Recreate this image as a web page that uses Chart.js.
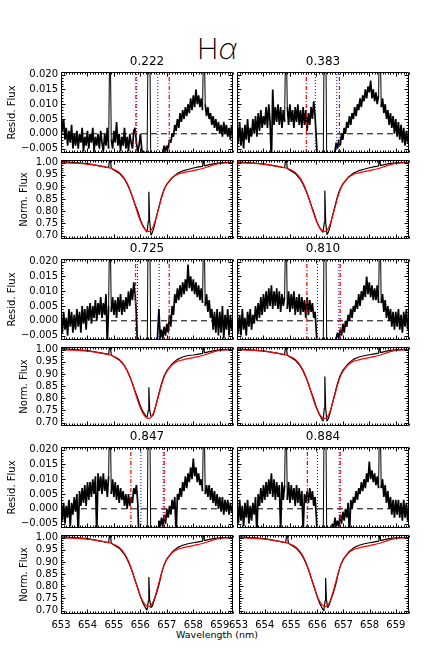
<!DOCTYPE html>
<html>
<head>
<meta charset="utf-8">
<title>H-alpha residual and normalised flux</title>
<script src="https://cdn.jsdelivr.net/npm/chart.js@4.4.1/dist/chart.umd.min.js"></script>
<style>
html,body{margin:0;padding:0;background:#fff;}
#wrap{position:relative;width:436px;height:654px;overflow:hidden;background:#fff;}
#wrap canvas{position:absolute;}
#mainTitle{position:absolute;left:117px;width:200px;top:32px;text-align:center;font-family:"Inter","DejaVu Sans",sans-serif;font-weight:200;font-size:29px;line-height:34px;color:#000;}
#xTitle{position:absolute;left:117px;width:200px;top:628px;text-align:center;font-family:"DejaVu Sans",sans-serif;font-size:9.5px;line-height:13px;color:#000;}
</style>
</head>
<body>
<div id="wrap">
<div id="mainTitle">H<span style="font-style:italic">α</span></div>
<div id="xTitle">Wavelength (nm)</div>
</div>
<script>
// ---------------- DATA ----------------
const phases = ['0.222', '0.383', '0.725', '0.810', '0.847', '0.884'];

const wave = [653.00,653.05,653.10,653.15,653.20,653.25,653.30,653.35,653.40,653.45,
653.50,653.55,653.60,653.65,653.70,653.75,653.80,653.85,653.90,653.95,
654.00,654.05,654.10,654.15,654.20,654.25,654.30,654.35,654.40,654.45,
654.50,654.55,654.60,654.65,654.70,654.75,654.80,654.85,654.90,654.95,
655.00,655.05,655.10,655.15,655.20,655.25,655.30,655.35,655.40,655.45,
655.50,655.55,655.60,655.65,655.70,655.75,655.80,655.85,655.90,655.95,
656.00,656.05,656.10,656.15,656.20,656.25,656.30,656.35,656.40,656.45,
656.50,656.55,656.60,656.65,656.70,656.75,656.80,656.85,656.90,656.95,
657.00,657.05,657.10,657.15,657.20,657.25,657.30,657.35,657.40,657.45,
657.50,657.55,657.60,657.65,657.70,657.75,657.80,657.85,657.90,657.95,
658.00,658.05,658.10,658.15,658.20,658.25,658.30,658.35,658.40,658.45,
658.50,658.55,658.60,658.65,658.70,658.75,658.80,658.85,658.90,658.95,
659.00,659.05,659.10,659.15,659.20,659.25,659.30,659.35,659.40,659.45,
659.50];

const residA = [0.007,0.001,0.005,-0.002,0.002,-0.004,0.001,-0.003,0.003,-0.005,0,
-0.004,0.001,-0.005,0,-0.003,0.002,-0.006,-0.001,-0.004,0.001,
-0.005,0,-0.003,0.002,-0.006,-0.001,-0.004,0,-0.005,0.001,
-0.003,-0.006,0,-0.004,0.002,-0.005,
0.04,
-0.002,-0.005,0.001,-0.003,0.004,-0.004,0,-0.006,-0.001,
-0.004,0.002,-0.005,-0.001,-0.006,0,-0.003,-0.005,0.001,
0.002,-0.003,-0.006,-0.004,0,-0.005,-0.008,-0.006,-0.009,-0.01,
0.04,0.04,
-0.02,-0.02,-0.02,-0.02,-0.02,-0.02,-0.02,-0.02,-0.02,
-0.006,-0.004,-0.006,-0.004,-0.005,-0.002,-0.003,0,-0.001,0.003,
0.001,0.005,0.002,0.007,0.004,0.008,0.005,0.009,0.006,0.01,
0.007,0.012,0.008,0.013,0.009,0.015,0.01,0.013,0.009,0.012,
0.008,
0.04,
0.01,0.006,0.009,0.005,0.007,0.003,0.006,0.002,0.005,0.001,
0.004,0,0.003,-0.001,0.004,0,0.003,-0.001,0.002,-0.002,
0.003,0];

const residB = [0.003,-0.003,0.004,-0.004,0.002,-0.005,0.003,-0.002,0.005,-0.003,0.002,
-0.001,0.005,0,0.006,-0.001,0.007,0.001,0.008,0.002,0.006,
0.003,0.009,0.002,0.01,0.004,-0.01,0.015,0.003,0.009,0.004,
0.01,0.003,0.009,0.002,0.008,0.004,
0.04,
0.009,0.003,0.01,0.004,0.008,0.002,0.009,0.004,0.01,
0.003,0.008,0.002,0.009,0.003,0.008,0.001,0.007,0.003,
0.009,0.005,0.011,0.006,
-0.002,-0.012,-0.02,-0.02,-0.02,-0.02,
0.04,0.04,
-0.02,-0.02,-0.02,-0.02,-0.02,-0.02,
-0.006,-0.003,-0.005,-0.002,-0.004,0,-0.002,0.002,0,0.004,
0.002,0.006,0.003,0.007,0.005,0.009,0.006,0.01,0.008,0.012,
0.009,0.013,0.011,0.015,0.012,0.016,0.014,0.018,0.012,0.015,
0.011,0.014,0.01,0.013,
0.04,
0.009,0.012,0.007,0.01,0.005,0.008,0.003,0.007,0.002,0.006,
0,0.005,-0.001,0.004,-0.002,0.003,-0.003,0.002,-0.004,0.001,
-0.003,0];

const residC = [0.002,-0.004,0.003,-0.003,0.001,-0.005,0.004,-0.002,0.003,-0.004,0.002,
-0.003,0.004,-0.002,0.003,-0.004,0.005,-0.001,0.004,-0.003,0.005,
0,0.006,-0.001,0.005,0.001,0.007,0,0.006,0.002,0.008,
0.001,0.006,0.002,0.009,-0.008,0.005,
0.04,
0.003,0.008,0.002,0.007,0.001,0.008,0.003,0.009,0.002,
0.007,0.003,0.008,0.004,0.01,0.005,0.011,0.007,0.013,
0.009,0.002,-0.012,
-0.02,-0.02,-0.02,-0.02,-0.02,-0.02,-0.02,
0.04,0.04,
-0.02,-0.02,-0.02,-0.02,-0.02,
-0.005,0.004,-0.006,-0.003,-0.006,-0.002,-0.005,-0.001,-0.004,0.002,
-0.002,0.005,0.002,0.009,0.006,0.011,0.007,0.012,0.008,0.013,
0.009,0.014,0.01,0.019,0.011,0.015,0.01,0.014,0.009,0.013,
0.008,0.012,0.007,0.011,0.006,
0.04,
0.005,0.009,0.003,0.007,0.001,0.004,-0.003,0.003,-0.004,0.004,
-0.005,0.003,-0.004,0.005,-0.006,0.002,-0.003,0.004,-0.005,0.002,
-0.003,0.001];

const residD = [0.003,-0.004,0.002,-0.005,0.004,-0.003,0.001,-0.005,0.003,-0.002,0.004,
-0.003,0.002,-0.001,0.005,0,0.006,0.001,0.008,0.002,0.009,
0.003,0.01,0.004,0.011,0.005,0.012,0.004,0.01,0.005,0.011,
0.004,0.01,0.003,0.009,0.005,0.008,
0.04,
0.004,0.01,0.003,0.009,0.004,0.01,0.002,0.008,0.003,
0.009,0.002,0.008,0.003,0.007,0.001,0.008,0.002,0.007,
0.003,0.006,0.001,0.003,-0.004,-0.012,
-0.02,-0.02,-0.02,-0.02,
0.04,0.04,
-0.02,-0.02,-0.02,-0.02,-0.02,-0.02,-0.02,
-0.006,-0.004,-0.006,-0.003,-0.005,-0.001,-0.004,0,-0.002,0.002,
0,0.004,0.001,0.005,0.003,0.007,0.004,0.009,0.005,0.01,
0.007,0.012,0.008,0.015,0.009,0.013,0.008,0.012,0.007,0.011,
0.007,0.012,0.006,
0.04,
0.006,0.009,0.003,0.007,0.001,0.005,0,0.004,-0.002,0.003,
-0.003,0.003,-0.002,0.004,-0.003,0.002,-0.004,0.003,-0.002,0.004,
-0.003,0.001];

const residE = [0.003,-0.004,0.002,-0.005,0.001,-0.003,0.003,-0.006,0.002,-0.002,0.004,
-0.001,0.005,-0.009,0.006,0.001,0.007,0.002,0.008,0.001,0.009,
0.003,0.009,0.004,0.01,0.005,0.011,-0.009,0.012,0.006,0.011,
0.005,0.012,0.006,0.01,0.004,0.011,
0.04,
0.005,0.01,0.004,0.009,0.003,0.008,0.002,0.007,0.003,
0.006,0.001,0.005,0,0.005,0.001,0.004,0.002,0.007,
0.005,0.008,0.002,-0.012,
-0.02,-0.02,-0.02,-0.02,-0.02,-0.02,
0.04,0.04,
-0.02,-0.02,-0.02,-0.02,
-0.006,-0.02,-0.004,-0.006,-0.003,-0.006,-0.002,-0.005,0,-0.003,
0.001,-0.002,0.003,0,0.004,-0.009,0.005,0.003,0.007,0.004,
0.009,0.006,0.011,0.007,0.012,0.009,0.014,0.01,0.017,0.011,
0.014,0.009,0.012,0.008,0.01,0.006,
0.04,
0.005,0.008,0.004,0.008,0.003,0.007,0.002,0.006,0.001,0.005,
0,0.004,-0.001,0.004,-0.002,0.003,-0.001,0.003,-0.002,0.002,
-0.001,0.001];

const residF = [0.002,-0.005,0.003,-0.004,0.001,-0.006,0.002,-0.003,0.003,-0.005,0.001,
-0.004,0.002,-0.002,0.004,-0.009,0.005,0.001,0.007,0.002,0.008,
0.003,0.009,0.004,0.01,0.005,0.012,0.004,0.01,0.003,0.009,
0.004,0.008,-0.008,0.009,0.003,0.008,
0.04,
0.003,0.009,0.002,0.008,0.003,0.007,0.001,0.008,0.002,
0.007,0.001,0.006,-0.008,0.005,0.002,0.006,0.002,0.007,
0.003,0.006,0.001,0.004,-0.003,-0.012,
-0.02,-0.02,-0.02,-0.02,
0.04,0.04,
-0.02,-0.02,-0.02,-0.02,
-0.005,-0.007,-0.003,-0.006,-0.004,-0.006,-0.002,-0.005,-0.001,-0.004,
0,-0.003,0.002,-0.009,0.003,0,0.004,0.002,0.006,0.003,
0.007,0.005,0.009,0.006,0.01,0.007,0.012,0.009,0.016,0.01,
0.013,0.009,0.012,0.008,0.011,0.007,
0.04,
0.007,0.01,0.004,0.008,0.002,0.006,0,0.004,-0.002,0.003,
-0.003,0.003,-0.002,0.003,-0.003,0.002,-0.004,0.003,-0.003,0.002,
-0.004,0];

const normWave = [653.0,653.5,654.0,654.5,654.8,654.85,654.9,655.0,655.2,655.4,
655.5,655.6,655.7,655.8,655.9,656.0,656.1,656.2,656.25,656.3,
656.32,656.35,656.4,656.45,656.5,656.6,656.7,656.8,656.9,657.0,
657.2,657.4,657.6,657.8,658.0,658.2,658.35,658.38,658.42,658.6,
658.8,659.0,659.2,659.5];

const normA = [1.004,1.000,0.996,0.986,0.980,1.03,0.977,0.970,0.957,0.932,
0.912,0.888,0.860,0.828,0.800,0.765,0.740,0.722,0.714,0.760,
0.880,0.760,0.702,0.712,0.728,0.775,0.818,0.860,0.892,0.912,
0.938,0.956,0.966,0.972,0.978,0.983,0.985,1.03,0.987,0.992,
0.996,0.999,1.000,1.001];
const normB = [1.003,0.999,0.995,0.985,0.979,1.03,0.976,0.969,0.956,0.930,
0.910,0.886,0.858,0.826,0.796,0.762,0.737,0.720,0.713,0.755,
0.885,0.755,0.704,0.714,0.730,0.778,0.820,0.862,0.893,0.913,
0.940,0.957,0.967,0.973,0.979,0.984,0.986,1.03,0.988,0.993,
0.997,0.999,1.000,1.001];
const normC = [1.004,1.000,0.996,0.987,0.981,1.03,0.978,0.971,0.958,0.933,
0.913,0.889,0.861,0.829,0.800,0.768,0.745,0.728,0.722,0.750,
0.845,0.752,0.726,0.727,0.735,0.778,0.820,0.861,0.893,0.914,
0.942,0.960,0.970,0.976,0.978,0.982,0.985,1.03,0.987,0.992,
0.996,0.999,1.000,1.001];
const normD = [1.003,0.999,0.995,0.986,0.980,1.03,0.977,0.970,0.957,0.931,
0.911,0.887,0.859,0.827,0.797,0.763,0.737,0.716,0.706,0.760,
0.890,0.760,0.706,0.716,0.732,0.778,0.820,0.862,0.894,0.915,
0.942,0.960,0.970,0.975,0.979,0.983,0.986,1.03,0.988,0.993,
0.997,0.999,1.000,1.001];
const normE = [1.003,1.000,0.996,0.986,0.980,1.03,0.977,0.970,0.957,0.931,
0.911,0.887,0.858,0.825,0.793,0.758,0.730,0.710,0.702,0.740,
0.838,0.745,0.712,0.718,0.735,0.768,0.805,0.853,0.890,0.913,
0.941,0.959,0.969,0.975,0.979,0.983,0.986,1.03,0.988,0.993,
0.997,0.999,1.000,1.001];
const normF = [1.003,1.000,0.996,0.986,0.980,1.03,0.977,0.970,0.957,0.931,
0.911,0.887,0.858,0.825,0.793,0.757,0.728,0.708,0.699,0.740,
0.834,0.745,0.712,0.722,0.738,0.768,0.805,0.853,0.890,0.913,
0.941,0.959,0.969,0.975,0.979,0.983,0.986,1.03,0.988,0.993,
0.997,0.999,1.000,1.001];
const modelNorm = [1.000,0.998,0.994,0.986,0.979,0.978,0.977,0.972,0.960,0.935,
0.915,0.890,0.860,0.825,0.790,0.760,0.737,0.723,0.719,0.717,
0.717,0.718,0.722,0.730,0.742,0.775,0.815,0.855,0.888,0.910,
0.938,0.952,0.958,0.963,0.967,0.972,0.976,0.977,0.978,0.985,
0.992,0.997,0.999,1.000];

const redMarks = [[655.83,657.09],[655.62,656.87],[655.82,657.09],[655.64,656.90],[655.64,656.90],[655.66,656.90]];
const blueMarks = [[655.86,656.66],[655.96,656.77],[655.89,656.71],[656.04,656.85],[656.02,656.86],[656.04,656.86]];

const residTicks = [-0.005, 0.000, 0.005, 0.010, 0.015, 0.020];
const normTicks = [0.70, 0.75, 0.80, 0.85, 0.90, 0.95, 1.00];
const waveTicks = [653, 654, 655, 656, 657, 658, 659];
const zeroLevel = 0;

// ---------------- LAYOUT / STYLE ----------------
const residList = [residA, residB, residC, residD, residE, residF];
const normList = [normA, normB, normC, normD, normE, normF];
const ROW_TOP = [72, 259, 447];
const RESID_H = 81, NORM_OFF = 88, NORM_H = 79, PLOT_W = 172;
const residRange = [-0.0065, 0.0209];
const normRange = [0.686, 1.011];
const waveRange = [653, 659.5];

Chart.defaults.font.family = '"DejaVu Sans", sans-serif';
Chart.defaults.font.size = 10;
Chart.defaults.color = '#000';

const framePlugin = {
  id: 'frame',
  afterDatasetsDraw(chart, args, opts) {
    const ctx = chart.ctx, a = chart.chartArea;
    const xs = chart.scales.x, ys = chart.scales.y;
    const L = Math.round(a.left) + 0.5, R = Math.round(a.right) - 0.5;
    const T = Math.round(a.top) + 0.5, B = Math.round(a.bottom) - 0.5;
    ctx.save();
    ctx.strokeStyle = '#000';
    ctx.lineWidth = 1;
    ctx.beginPath();
    ctx.rect(L, T, R - L, B - T);
    for (let k = 6530; k <= 6595; k++) {
      const v = k / 10;
      const len = (k % 10 === 0) ? 4 : 2;
      const px = Math.round(xs.getPixelForValue(v)) + 0.5;
      ctx.moveTo(px, B); ctx.lineTo(px, B - len);
      ctx.moveTo(px, T); ctx.lineTo(px, T + len);
    }
    for (let k = opts.k0; k <= opts.k1; k++) {
      const v = k / opts.div;
      if (v < ys.min || v > ys.max) continue;
      const len = (k % 5 === 0) ? 4 : 2;
      const py = Math.round(ys.getPixelForValue(v)) + 0.5;
      ctx.moveTo(L, py); ctx.lineTo(L + len, py);
      ctx.moveTo(R, py); ctx.lineTo(R - len, py);
    }
    ctx.stroke();
    ctx.restore();
  }
};

function pts(xs, ys) { return xs.map((x, i) => ({x: x, y: ys[i]})); }
function vline(x, r) { return [{x: x, y: r[0]}, {x: x, y: r[1]}]; }
function fmt(dec) {
  return v => (v < 0 ? '\u2212' : '') + Math.abs(v).toFixed(dec);
}
// thin strokes for segments that leave the plotting window (spikes / line core)
function thinOffscale(range, normal, thin) {
  return c => {
    const a = c.p0.parsed.y, b = c.p1.parsed.y;
    return (a > range[1] || b > range[1]) ? thin : normal;
  };
}

function yScale(range, ticks, dec, title, titlePad, showLabels) {
  if (!showLabels) return {type: 'linear', min: range[0], max: range[1], display: false};
  return {
    type: 'linear', min: range[0], max: range[1], position: 'left',
    afterFit: s => { s.width = 61; },
    afterBuildTicks: s => { s.ticks = ticks.map(v => ({value: v})); },
    grid: {display: false, drawTicks: false},
    border: {display: false},
    ticks: {padding: 3, autoSkip: false, callback: fmt(dec)},
    title: {display: true, text: title, padding: {top: titlePad, bottom: 0}}
  };
}

function xScale(showLabels) {
  if (!showLabels) return {type: 'linear', min: waveRange[0], max: waveRange[1], display: false};
  return {
    type: 'linear', min: waveRange[0], max: waveRange[1], position: 'bottom',
    afterFit: s => { s.height = 20; },
    afterBuildTicks: s => { s.ticks = waveTicks.map(v => ({value: v})); },
    grid: {display: false, drawTicks: false},
    border: {display: false},
    ticks: {padding: 5, autoSkip: false, maxRotation: 0, callback: v => String(v)}
  };
}

function makeChart(box, datasets, scales, padding, title, frame) {
  const c = document.createElement('canvas');
  c.width = box.w; c.height = box.h;
  c.style.left = box.left + 'px'; c.style.top = box.top + 'px';
  c.style.width = box.w + 'px'; c.style.height = box.h + 'px';
  document.getElementById('wrap').appendChild(c);
  return new Chart(c, {
    type: 'line',
    data: {datasets: datasets},
    options: {
      responsive: false, animation: false, devicePixelRatio: 1, events: [],
      layout: {padding: padding},
      elements: {point: {radius: 0}, line: {borderWidth: 1, tension: 0, borderJoinStyle: 'bevel'}},
      plugins: {
        legend: {display: false}, tooltip: {enabled: false},
        title: title,
        frame: frame
      },
      scales: scales
    },
    plugins: [framePlugin]
  });
}

for (let p = 0; p < 6; p++) {
  const row = Math.floor(p / 2), col = p % 2;
  const top = ROW_TOP[row];
  const left = col === 0 ? 0 : 224;
  const w = col === 0 ? 61 + PLOT_W + 3 : 13 + PLOT_W + 3;
  const padL = col === 0 ? 0 : 13;

  // residual panel
  const rds = [
    {data: pts(wave, residList[p]), borderColor: '#000', borderWidth: 1.7, order: 2,
     segment: {borderWidth: thinOffscale(residRange, 1.7, 1)}},
    {data: [{x: waveRange[0], y: zeroLevel}, {x: waveRange[1], y: zeroLevel}], borderColor: '#000', borderWidth: 1, borderDash: [6, 4], order: 3},
    {data: vline(blueMarks[p][0], residRange), borderColor: '#0000ff', borderWidth: 1, borderDash: [1, 2], order: 1},
    {data: vline(blueMarks[p][1], residRange), borderColor: '#0000ff', borderWidth: 1, borderDash: [1, 2], order: 1},
    {data: vline(redMarks[p][0], residRange), borderColor: '#ff0000', borderWidth: 1.2, borderDash: [4, 2, 1, 2], order: 0},
    {data: vline(redMarks[p][1], residRange), borderColor: '#ff0000', borderWidth: 1.2, borderDash: [4, 2, 1, 2], order: 0}
  ];
  makeChart(
    {left: left, top: top - 17, w: w, h: 17 + RESID_H + 10},
    rds,
    {x: xScale(false), y: yScale(residRange, residTicks, 3, 'Resid. Flux', 6, col === 0)},
    {left: padL, right: 3, top: 0, bottom: 10},
    {display: true, text: phases[p], fullSize: false, font: {size: 12, weight: 'normal'}, color: '#000', padding: {top: 0, bottom: 2.6}},
    {k0: -6, k1: 20, div: 1000}
  );

  // normalised flux panel
  const bottomRow = row === 2;
  const nds = [
    {data: pts(normWave, normList[p]), borderColor: '#000', borderWidth: 1.2, order: 1},
    {data: pts(normWave, modelNorm), borderColor: '#ff0000', borderWidth: 1.2, cubicInterpolationMode: 'monotone', order: 0}
  ];
  const nTop = top + NORM_OFF;
  makeChart(
    {left: left, top: nTop - 10, w: w, h: 10 + NORM_H + (bottomRow ? 20 : 10)},
    nds,
    {x: xScale(bottomRow), y: yScale(normRange, normTicks, 2, 'Norm. Flux', 18, col === 0)},
    {left: padL, right: 3, top: 10, bottom: bottomRow ? 0 : 10},
    {display: false},
    {k0: 68, k1: 101, div: 100}
  );
}
</script>
</body>
</html>
